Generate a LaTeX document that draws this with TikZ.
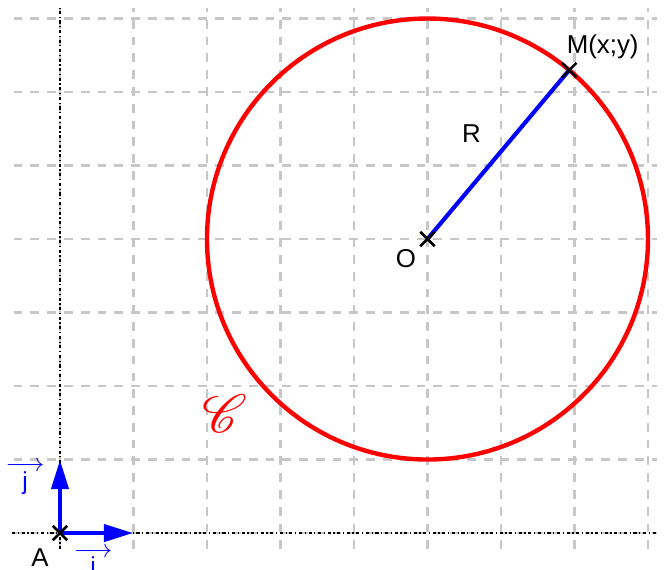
\documentclass[tikz,border=0pt]{standalone}
\usepackage{fontspec}
\setmainfont{Liberation Sans}
\usepackage{amsmath}
\usepackage{mathrsfs}
\usetikzlibrary{arrows.meta,positioning,shapes.misc}

\newcommand{\vecteur}[1]{\(\overrightarrow{\hbox to 15pt{\hfil\fontsize{9.5}{11}\selectfont #1\hfil}}\)}

\begin{document}
\begin{tikzpicture}[
		grille/.style={draw=black!22, line width=0.8pt, dash pattern=on 3.4pt off 3.1pt},
		axe/.style={draw=black, line width=0.55pt, dash pattern=on 1.2pt off 1pt on 0.5pt off 1pt},
		vect/.style={draw=blue, line width=1.9pt, -{Triangle[length=11.5pt,width=6.5pt]}},
		croix/.style={draw, cross out, line width=1pt, minimum size=4.6pt, inner sep=0pt},
		etiq/.style={anchor=base, inner sep=0pt}
		]
		
		\useasboundingbox (-0.816,-0.49) rectangle (8.218,7.252);
		
		% grille et axes
		\foreach \x in {0,...,8}
			\draw[grille] (\x,-0.22) -- (\x,7.14);
		\foreach \y in {0,...,7}
			\draw[grille] (-0.63,\y) -- (8.12,\y);
		\draw[axe] (-0.65,0) -- (8.12,0);
		\draw[axe] (0,-0.22) -- (0,7.14);
		
		\coordinate (A) at (0,0);
		\coordinate (I) at (1,0);
		\coordinate (J) at (0,1);
		\coordinate (O) at (5,4);
		\coordinate (M) at ([shift={(50:3)}]O);
		
		\draw[red, line width=1.7pt] (O) circle (3);
		\draw[blue, line width=1.6pt] (O) -- (M);
		
		\draw[vect] (A) -- (I);
		\draw[vect] (A) -- (J);
		
		\node[croix] (ptA) at (A) {};
		\node[croix] (ptO) at (O) {};
		\node[croix] (ptM) at (M) {};
		
		\node[etiq] (lA) at (-0.272,-0.449) {A};
		\node[etiq] (lO) at (4.707,3.619) {O};
		\node[etiq] (lR) at (5.599,5.320) {R};
		\node[etiq] (lM) at (7.384,6.527) {M(x;y)};
		\node[etiq, text=blue] (li) at (0.449,-0.571) {\vecteur{i}};
		\node[etiq, text=blue] (lj) at (-0.476,0.592) {\vecteur{j}};
		\node[text=red] (lC) at (2.24,1.619) {\fontsize{20}{23}\selectfont\(\mathscr{C}\)};
		
	\end{tikzpicture}
\end{document}
